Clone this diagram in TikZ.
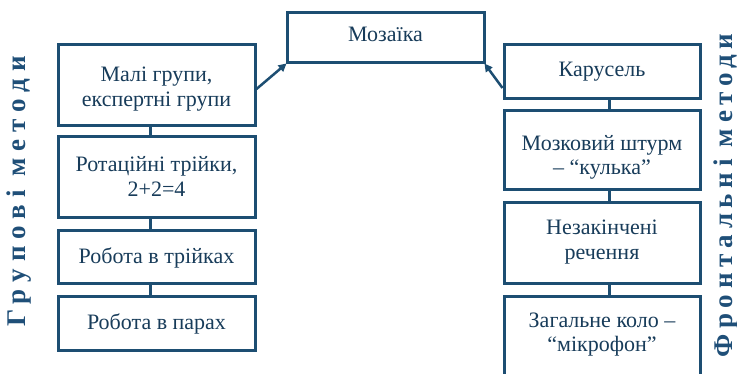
\documentclass[tikz,border=0pt]{standalone}
\usepackage{fontspec}
\setmainfont{Liberation Serif}
\newfontfamily\boxface{Liberation Serif}
\newfontfamily\sideface[LetterSpace=26]{Liberation Serif Bold}
\newfontfamily\sidefacetight[LetterSpace=21]{Liberation Serif Bold}
\usetikzlibrary{arrows.meta}
\definecolor{frame}{HTML}{1D4E72}
\definecolor{ink}{HTML}{183C5A}
\definecolor{side}{HTML}{1F4F78}
\begin{document}
\begin{tikzpicture}[x=1pt,y=-1pt,
  methodbox/.style={draw=frame, line width=3pt, fill=white, text=ink, align=center,
    font=\boxface\fontsize{22}{24.5}\selectfont, inner sep=0pt},
  textbox/.style 2 args={text height=#1, text depth=#2},
  link/.style={draw=frame, line width=3pt},
  pointer/.style={draw=frame, line width=2.5pt, -{Triangle[length=8pt,width=8pt]}},
  sidelabel/.style={rotate=90, anchor=base, text=side, inner sep=0pt}]
\useasboundingbox (0,0) rectangle (737,374);

% central box
\node[methodbox, text depth=7.4pt, minimum width=197pt, minimum height=50pt] (moz) at (385.5,38) {Мозаїка};

% group methods
\node[methodbox, textbox={42pt}{0pt}, minimum width=197pt, minimum height=81pt] (g1) at (156.5,85.5) {Малі групи,\\експертні групи};
\node[methodbox, textbox={39pt}{1pt}, minimum width=197pt, minimum height=81pt] (g2) at (156.5,177.5) {Ротаційні трійки,\\2+2=4};
\node[methodbox, minimum width=197pt, minimum height=53pt] (g3) at (156.5,257.5) {Робота в трійках};
\node[methodbox, minimum width=197pt, minimum height=54pt] (g4) at (156.5,324) {Робота в парах};

% frontal methods
\node[methodbox, minimum width=196pt, minimum height=54pt] (f1) at (602,72) {Карусель};
\node[methodbox, textbox={49pt}{0pt}, minimum width=196pt, minimum height=79pt] (f2) at (602,150.5) {Мозковий штурм\\– “кулька”};
\node[methodbox, textbox={40pt}{8pt}, minimum width=196pt, minimum height=81pt] (f3) at (602,243.5) {Незакінчені\\речення};
\node[methodbox, textbox={40pt}{11pt}, minimum width=196pt, minimum height=80pt] (f4) at (602,337) {Загальне коло –\\“мікрофон”};

% links inside the columns
\draw[link] ([xshift=-6pt]g1.south) -- ([xshift=-6pt]g2.north);
\draw[link] ([xshift=-6pt]g2.south) -- ([xshift=-6pt]g3.north);
\draw[link] ([xshift=-6pt]g3.south) -- ([xshift=-6pt]g4.north);
\draw[link] ([xshift=7pt]f1.south) -- ([xshift=7pt]f2.north);
\draw[link] ([xshift=7pt]f2.south) -- ([xshift=7pt]f3.north);
\draw[link] ([xshift=7pt]f3.south) -- ([xshift=7pt]f4.north);

% arrows to the central box
\draw[pointer] ([yshift=-3.5pt]g1.east) -- ([xshift=1pt,yshift=1pt]moz.south west);
\draw[pointer] ([yshift=-16pt]f1.west) -- ([xshift=-1pt,yshift=1pt]moz.south east);

% side captions
\node[sidelabel, font=\sideface\fontsize{27}{27}\selectfont] (glabel) at (25,191.5) {Групові методи};
\node[sidelabel, font=\sidefacetight\fontsize{27}{27}\selectfont] (flabel) at (732.5,195.5) {Фронтальні методи};
\end{tikzpicture}
\end{document}
